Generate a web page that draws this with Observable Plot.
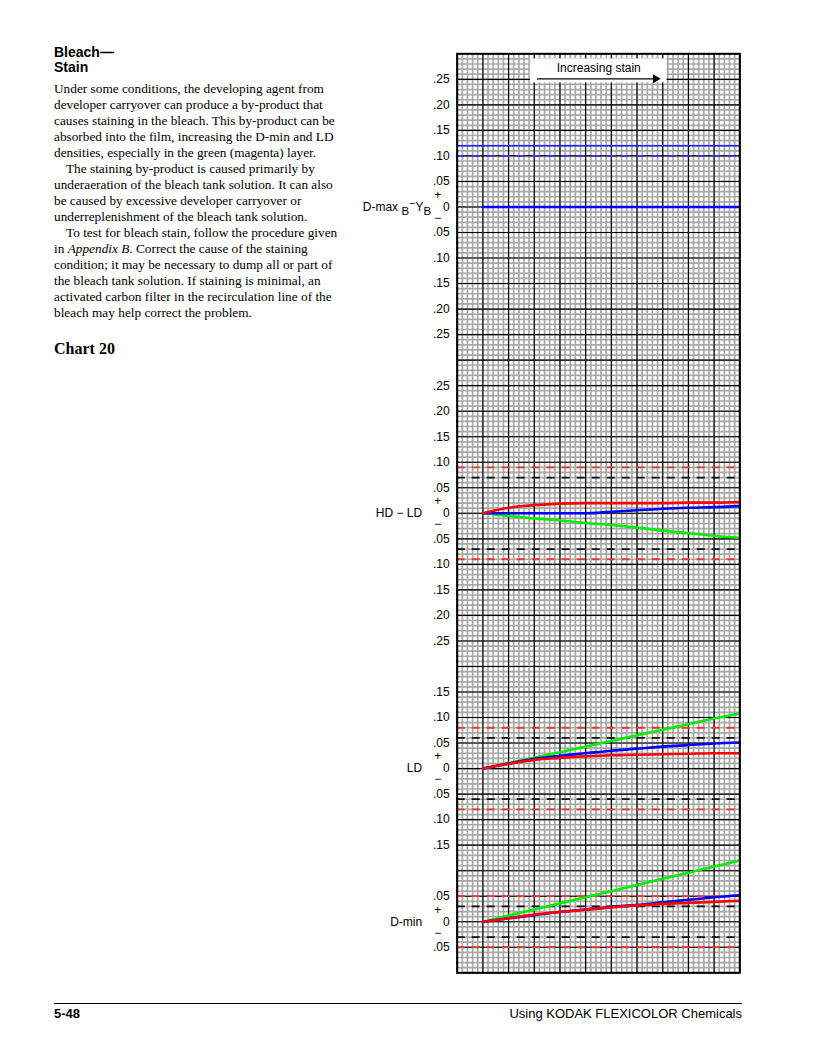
<!DOCTYPE html>
<html>
<head>
<meta charset="utf-8">
<script src="https://cdn.jsdelivr.net/npm/d3@7"></script>
<script src="https://cdn.jsdelivr.net/npm/@observablehq/plot@0.6"></script>
<style>
html, body { margin: 0; padding: 0; background: #fff; }
#page { position: relative; width: 816px; height: 1056px; overflow: hidden; background: #fff; }
#chart { position: absolute; left: 0; top: 0; }
#chart svg { background: transparent !important; }
.txt { position: absolute; z-index: 2; color: #000; white-space: nowrap; }
.head { left: 54px; top: 45px; font-family: "Liberation Sans", Arial, sans-serif; font-weight: bold; font-size: 14px; line-height: 15px; }
.body { left: 54px; top: 81px; font-family: "Liberation Serif", "Times New Roman", serif; font-size: 13.3px; line-height: 16px; }
.ind { padding-left: 12px; }
.charttitle { left: 54px; top: 339px; font-family: "Liberation Serif", "Times New Roman", serif; font-weight: bold; font-size: 16px; line-height: 20px; }
.rule { position: absolute; left: 54px; top: 1003px; width: 688px; height: 0; border-top: 1px solid #000; }
.foot { top: 1006px; font-family: "Liberation Sans", Arial, sans-serif; font-size: 13px; line-height: 16px; }
.footl { left: 54px; font-weight: bold; }
.footr { right: 74px; }
</style>
</head>
<body>
<div id="page">
  <div id="chart"></div>
  <div class="txt head">Bleach—<br>Stain</div>
  <div class="txt body">
    Under some conditions, the developing agent from<br>
    developer carryover can produce a by-product that<br>
    causes staining in the bleach. This by-product can be<br>
    absorbed into the film, increasing the D-min and LD<br>
    densities, especially in the green (magenta) layer.<br>
    <span class="ind">The staining by-product is caused primarily by</span><br>
    underaeration of the bleach tank solution. It can also<br>
    be caused by excessive developer carryover or<br>
    underreplenishment of the bleach tank solution.<br>
    <span class="ind">To test for bleach stain, follow the procedure given</span><br>
    in <i>Appendix B</i>. Correct the cause of the staining<br>
    condition; it may be necessary to dump all or part of<br>
    the bleach tank solution. If staining is minimal, an<br>
    activated carbon filter in the recirculation line of the<br>
    bleach may help correct the problem.
  </div>
  <div class="txt charttitle">Chart 20</div>
  <div class="rule"></div>
  <div class="txt foot footl">5-48</div>
  <div class="txt foot footr">Using KODAK FLEXICOLOR Chemicals</div>
</div>
<script>
// ---------- data ----------
const panelNames = ["D-max B−YB", "HD − LD", "LD", "D-min"];
const panelHalfRange = [0.30, 0.30, 0.20, 0.10];
const panelTickValues = [
  [0.25, 0.20, 0.15, 0.10, 0.05, 0, -0.05, -0.10, -0.15, -0.20, -0.25],
  [0.25, 0.20, 0.15, 0.10, 0.05, 0, -0.05, -0.10, -0.15, -0.20, -0.25],
  [0.15, 0.10, 0.05, 0, -0.05, -0.10, -0.15],
  [0.05, 0, -0.05]
];
const stainLevels = [1, 2, 3, 4, 5, 6, 7, 8, 9, 10, 11];

const dmaxBlue  = [0, 0, 0, 0, 0, 0, 0, 0, 0, 0, 0];

const hdldGreen = [0, -0.005, -0.010, -0.014, -0.019, -0.023, -0.028, -0.034, -0.039, -0.044, -0.048];
const hdldBlue  = [0, 0.000, 0.000, 0.000, 0.000, 0.003, 0.006, 0.009, 0.011, 0.012, 0.014];
const hdldRed   = [0, 0.011, 0.016, 0.019, 0.020, 0.020, 0.020, 0.020, 0.021, 0.021, 0.022];

const ldGreen = [0, 0.011, 0.021, 0.032, 0.043, 0.054, 0.065, 0.076, 0.087, 0.098, 0.108];
const ldBlue  = [0, 0.010, 0.019, 0.025, 0.030, 0.035, 0.039, 0.043, 0.046, 0.049, 0.051];
const ldRed   = [0, 0.009, 0.017, 0.021, 0.024, 0.026, 0.027, 0.028, 0.029, 0.030, 0.030];

const dminGreen = [0, 0.012, 0.024, 0.036, 0.048, 0.060, 0.072, 0.084, 0.096, 0.108, 0.120];
const dminBlue  = [0, 0.007, 0.013, 0.019, 0.024, 0.029, 0.033, 0.038, 0.043, 0.048, 0.052];
const dminRed   = [0, 0.007, 0.014, 0.019, 0.0235, 0.028, 0.032, 0.035, 0.037, 0.039, 0.041];

const blueSolidLimit  = [0.12, null, null, null];
const blueDashedLimit = [0.10, null, null, null];
const redLimit   = [null, 0.09, 0.08, 0.05];
const blackLimit = [null, 0.07, 0.06, 0.03];

const stainLabel = "Increasing stain";
const stainBox = {x1: 2.85, x2: 8.17, top: 0.29, bottom: 0.243, text: 0.271};
const stainArrow = {x1: 3.1, x2: 7.8, head: 7.72, value: 0.251};

// ---------- derived tables ----------
const zero = [];
{ let acc = 0; panelHalfRange.forEach(h => { zero.push(acc + h); acc += 2 * h; }); }
const totalDepth = d3.sum(panelHalfRange) * 2;

const seriesDefs = [
  {panel: 0, color: "#0000ff", values: dmaxBlue},
  {panel: 1, color: "#00ee00", values: hdldGreen},
  {panel: 1, color: "#0000ff", values: hdldBlue},
  {panel: 1, color: "#ff0000", values: hdldRed},
  {panel: 2, color: "#00ee00", values: ldGreen},
  {panel: 2, color: "#0000ff", values: ldBlue},
  {panel: 2, color: "#ff0000", values: ldRed},
  {panel: 3, color: "#00ee00", values: dminGreen},
  {panel: 3, color: "#0000ff", values: dminBlue},
  {panel: 3, color: "#ff0000", values: dminRed}
];
const lineRows = seriesDefs.flatMap((s, k) => s.values.map((v, i) => ({
  key: k, color: s.color, x: stainLevels[i], depth: zero[s.panel] - v
})));

function limitRows(arr, both) {
  return arr.flatMap((v, p) => v == null ? [] : (both ? [zero[p] - v, zero[p] + v] : [zero[p] - v]));
}
const redRows = limitRows(redLimit, true);
const blackRows = limitRows(blackLimit, true);
const blueSolidRows = limitRows(blueSolidLimit, false);
const blueDashedRows = limitRows(blueDashedLimit, false);

const fmt = v => v === 0 ? "0" : d3.format(".2f")(Math.abs(v)).replace(/^0/, "");
const tickRows = panelTickValues.flatMap((ticks, p) => ticks.map(v => ({depth: zero[p] - v, label: fmt(v)})));
const zeroRows = zero.map((z, p) => ({depth: z, name: panelNames[p], panel: p}));

const minorX = d3.range(0, 55 + 1).map(i => i * 0.2);
const majorX = d3.range(0, 12);
const minorY = d3.range(0, Math.round(totalDepth / 0.01) + 1).map(i => i * 0.01);
const majorY = d3.range(0, Math.round(totalDepth / 0.05) + 1).map(i => i * 0.05);

// ---------- plot ----------
const FONT = "'Liberation Sans', Arial, Helvetica, sans-serif";
const chart = Plot.plot({
  width: 816,
  height: 1056,
  marginLeft: 456.7,
  marginRight: 76.7,
  marginTop: 53.3,
  marginBottom: 83.7,
  style: {fontFamily: FONT, fontSize: "12px", background: "transparent", color: "#000"},
  x: {domain: [0, 11], axis: null},
  y: {domain: [0, totalDepth], reverse: true, axis: null},
  marks: [
    Plot.ruleX(minorX, {stroke: "#a8a8a8", strokeWidth: 1.7}),
    Plot.ruleY(minorY, {stroke: "#a8a8a8", strokeWidth: 1.7}),
    Plot.ruleX(majorX, {stroke: "#000", strokeWidth: 1.1}),
    Plot.ruleY(majorY, {stroke: "#000", strokeWidth: 1.1}),
    // Increasing stain box
    Plot.rect([stainBox], {x1: "x1", x2: "x2", y1: d => zero[0] - d.top, y2: d => zero[0] - d.bottom, fill: "#fff"}),
    Plot.text([stainBox], {x: d => (d.x1 + d.x2) / 2, y: d => zero[0] - d.text, text: () => stainLabel, fontSize: 12, fill: "#000"}),
    Plot.link([stainArrow], {x1: "x1", x2: "x2", y1: d => zero[0] - d.value, y2: d => zero[0] - d.value, stroke: "#000", strokeWidth: 1.2}),
    Plot.dot([stainArrow], {x: "head", y: d => zero[0] - d.value, symbol: "triangle", rotate: 90, r: 3.3, fill: "#000", stroke: "none"}),
    // limits
    Plot.ruleY(blueSolidRows, {stroke: "#1a1aff", strokeWidth: 1.4}),
    Plot.ruleY(blueDashedRows, {stroke: "#3333ff", strokeWidth: 1.8, strokeDasharray: "8,7"}),
    Plot.ruleY(blackRows, {stroke: "#111", strokeWidth: 1.8, strokeDasharray: "8,7"}),
    Plot.ruleY(redRows, {stroke: "#ff3030", strokeWidth: 1.8, strokeDasharray: "8,7"}),
    // data
    Plot.line(lineRows, {x: "x", y: "depth", z: "key", stroke: "color", strokeWidth: 2.6, curve: "monotone-x"}),
    Plot.frame({stroke: "#000", strokeWidth: 2}),
    // left labels
    Plot.text(tickRows, {y: "depth", text: "label", frameAnchor: "left", dx: -7.5, textAnchor: "end", fontSize: 12, fill: "#000"}),
    Plot.text(zeroRows, {y: "depth", text: () => "+", frameAnchor: "left", dx: -19.5, dy: -12, textAnchor: "middle", fontSize: 12, fill: "#000"}),
    Plot.text(zeroRows, {y: "depth", text: () => "−", frameAnchor: "left", dx: -19.5, dy: 11, textAnchor: "middle", fontSize: 12, fill: "#000"}),
    Plot.text(zeroRows.filter(d => d.panel === 0), {y: "depth", text: "name", frameAnchor: "left", dx: -26, textAnchor: "end", fontSize: 12, fill: "#000"}),
    Plot.text(zeroRows.filter(d => d.panel !== 0), {y: "depth", text: "name", frameAnchor: "left", dx: -35, textAnchor: "end", fontSize: 12, fill: "#000"})
  ]
});
document.getElementById("chart").appendChild(chart);

// subscripts in D-max B−YB label
const lab = [...chart.querySelectorAll("text")].find(e => e.textContent === panelNames[0]);
if (lab) {
  lab.textContent = "";
  const parts = [["D-max\u00a0", 0, 12], ["B", 4, 11.5], ["−", -8, 11], ["Y", 4, 12], ["B", 4, 11.5]];
  parts.forEach(([s, dy, fs]) => {
    const t = document.createElementNS("http://www.w3.org/2000/svg", "tspan");
    t.textContent = s;
    if (dy) t.setAttribute("dy", dy);
    t.setAttribute("font-size", fs);
    lab.appendChild(t);
  });
}
</script>
</body>
</html>
